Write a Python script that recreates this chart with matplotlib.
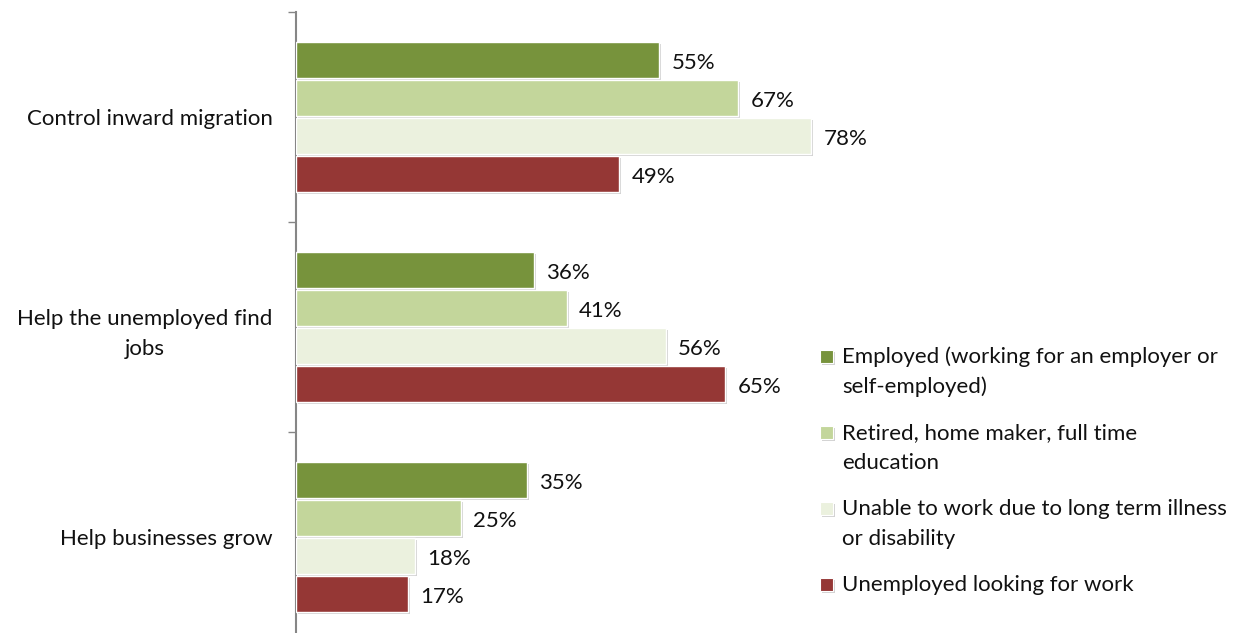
import matplotlib.pyplot as plt
import matplotlib.patches as patches
import matplotlib.patheffects as pe
import numpy as np

categories = ["Control inward migration", "Help the unemployed find\njobs", "Help businesses grow"]
series_names = ["Employed (working for an employer or\nself-employed)",
                "Retired, home maker, full time\neducation",
                "Unable to work due to long term illness\nor disability",
                "Unemployed looking for work"]
employed = [55, 36, 35]
retired = [67, 41, 25]
unable = [78, 56, 18]
unemployed = [49, 65, 17]
colors = ["#77933C", "#C3D69B", "#EBF1DE", "#953735"]

plt.rcParams["font.family"] = ["Lato", "DejaVu Sans"]
FS = 16
TXT = "#111111"

W, H = 1258, 633
fig = plt.figure(figsize=(W / 100, H / 100), dpi=100)
# axes in pixel terms: left edge 296, 6.6 px per percent, 210 px per category
left, top = 296, 12
ax = fig.add_axes([left / W, 1 - (top + 630) / H, 660 / W, 630 / H])

values = [employed, retired, unable, unemployed]
bar_h = 0.172
step = 0.181
y = np.arange(len(categories))
shadow = [pe.SimplePatchShadow(offset=(1.5, -1.5), alpha=0.35, shadow_rgbFace="#808080"), pe.Normal()]

for i, (vals, col) in enumerate(zip(values, colors)):
    pos = y + (i - 1.5) * step
    bars = ax.barh(pos, vals, height=bar_h, color=col, edgecolor="white", linewidth=1.0, zorder=3)
    for b in bars:
        b.set_path_effects(shadow)
    for p, v in zip(pos, vals):
        ax.annotate(f"{v}%", (v, p), xytext=(9, -2), textcoords="offset points",
                    ha="left", va="center", fontsize=FS, color=TXT)

ax.set_xlim(0, 100)
ax.set_ylim(len(categories) - 0.5, -0.5)

for s in ["top", "right", "bottom"]:
    ax.spines[s].set_visible(False)
ax.spines["left"].set_color("#868686")
ax.spines["left"].set_linewidth(1.5)
ax.set_xticks([])
ax.set_yticks(np.arange(-0.5, len(categories) + 0.5, 1))
ax.set_yticklabels([])
ax.tick_params(axis="y", which="major", length=6, width=1, color="#868686", direction="out")
ax.set_yticks(y, minor=True)
ax.set_yticklabels(categories, minor=True, fontsize=FS, color=TXT, multialignment="center",
                   linespacing=1.6)
ax.tick_params(axis="y", which="minor", length=0, pad=17)

# legend drawn line by line, handle sits on the first line of each entry
leg_x = 820
baseline = 363
line_h, gap = 30, 46
for name, col in zip(series_names, colors):
    sq = patches.Rectangle((leg_x / W, 1 - baseline / H), 13 / W, 13 / H, transform=fig.transFigure,
                           facecolor=col, edgecolor="white", linewidth=0.8)
    sq.set_path_effects(shadow)
    fig.add_artist(sq)
    lines = name.split("\n")
    for k, ln in enumerate(lines):
        fig.text((leg_x + 22) / W, 1 - (baseline + k * line_h) / H, ln, ha="left", va="baseline",
                 fontsize=FS, color=TXT)
    baseline += line_h * (len(lines) - 1) + gap

fig.savefig("out.png", dpi=100)
